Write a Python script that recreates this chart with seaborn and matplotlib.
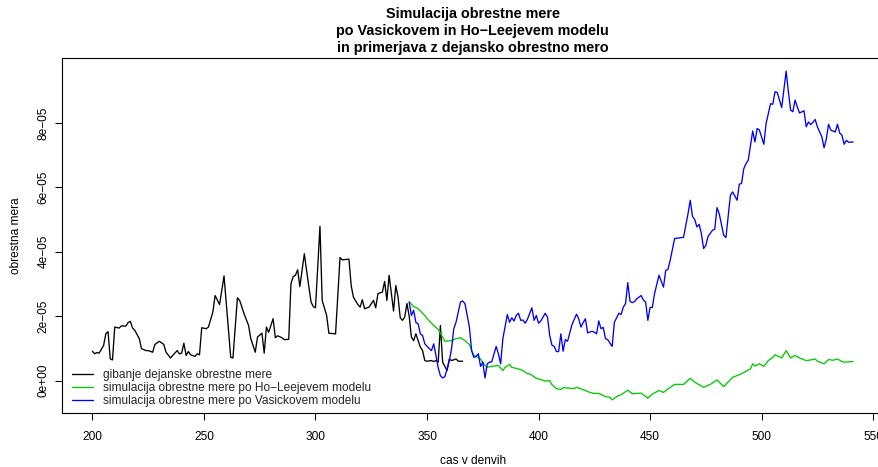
import numpy as np
import pandas as pd
import matplotlib
matplotlib.use("Agg")
import matplotlib.pyplot as plt
import seaborn as sns

# ---------------- data (rates in units of 1e-05) ----------------
actual_day = [200, 201, 202, 203, 205, 206, 207, 208, 209, 210, 212, 213, 215, 216, 217,
              218, 219, 221, 222, 224, 225, 227, 228, 230, 232, 233, 235, 236, 238, 239,
              240, 241, 242, 243, 244, 246, 247, 248, 249, 251, 252, 254, 255, 257, 259,
              262, 263, 265, 266, 268, 270, 271, 273, 274, 276, 277, 278, 279, 281, 282,
              283, 285, 286, 288, 289, 290, 291, 292, 293, 295, 296, 298, 299, 300, 302,
              303, 305, 306, 309, 311, 312, 315, 316, 317, 319, 320, 321, 322, 324, 326,
              327, 328, 330, 331, 332, 333, 335, 336, 337, 338, 339, 340, 341, 342, 343,
              344, 345, 347, 348, 349, 350, 352, 353, 354, 355, 356, 357, 359, 360, 361,
              363, 364, 366]
actual_rate = [0.91, 0.83, 0.87, 0.85, 1.09, 1.45, 1.52, 0.67, 0.64, 1.66, 1.63, 1.70, 1.69, 1.80, 1.84,
               1.63, 1.56, 1.30, 0.99, 0.93, 0.93, 0.88, 1.12, 1.22, 1.12, 0.88, 0.70, 0.78, 0.93, 0.83,
               0.85, 1.16, 0.78, 0.90, 0.80, 0.75, 0.83, 0.80, 1.64, 1.61, 1.66, 2.13, 2.64, 2.36, 3.25,
               0.72, 0.70, 2.57, 2.49, 2.07, 1.71, 1.30, 0.88, 1.35, 1.47, 0.85, 1.66, 1.50, 1.92, 1.33,
               1.39, 1.33, 1.27, 1.28, 3.01, 3.23, 3.27, 3.44, 2.92, 3.94, 3.42, 2.44, 2.30, 2.26, 4.79,
               2.49, 2.02, 1.47, 1.45, 3.82, 3.75, 3.77, 2.95, 2.59, 2.36, 2.28, 2.51, 2.23, 2.28, 2.49,
               2.26, 2.70, 2.75, 3.08, 2.49, 3.27, 2.16, 2.95, 2.60, 1.95, 1.87, 1.97, 2.39, 2.00, 1.35,
               1.24, 1.45, 1.04, 0.93, 0.62, 0.60, 0.62, 0.59, 0.62, 0.57, 1.71, 0.57, 0.31, 0.67, 0.62,
               0.67, 0.60, 0.60]

hl_day = [342, 344, 346, 347, 349, 351, 353, 355, 357, 358, 361, 363, 365, 367, 369,
          370, 371, 373, 374, 376, 377, 379, 382, 384, 385, 387, 388, 391, 393, 395,
          396, 399, 401, 403, 405, 406, 408, 410, 411, 414, 416, 417, 421, 423, 425,
          427, 430, 432, 433, 435, 437, 440, 442, 446, 449, 451, 454, 456, 458, 461,
          465, 468, 470, 474, 477, 480, 483, 487, 490, 493, 495, 496, 497, 499, 501,
          503, 505, 506, 509, 511, 513, 515, 517, 520, 522, 524, 525, 528, 530, 532,
          534, 536, 537, 541]
hl_rate = [2.44, 2.30, 2.23, 2.16, 2.02, 1.85, 1.71, 1.59, 1.35, 1.22, 1.24, 1.30, 1.33, 1.24, 1.12,
           0.93, 0.78, 0.72, 0.67, 0.47, 0.41, 0.44, 0.47, 0.31, 0.41, 0.50, 0.41, 0.36, 0.31, 0.21,
           0.21, 0.07, 0.03, -0.02, 0.00, -0.13, -0.25, -0.28, -0.22, -0.24, -0.25, -0.21, -0.31, -0.37, -0.40,
           -0.40, -0.50, -0.52, -0.60, -0.50, -0.44, -0.30, -0.41, -0.39, -0.55, -0.42, -0.31, -0.37, -0.26, -0.12,
           -0.12, 0.07, -0.05, -0.21, -0.12, 0.02, -0.19, 0.10, 0.18, 0.29, 0.36, 0.52, 0.45, 0.52, 0.44,
           0.62, 0.72, 0.80, 0.70, 0.93, 0.70, 0.78, 0.70, 0.62, 0.64, 0.67, 0.60, 0.52, 0.65, 0.63,
           0.67, 0.59, 0.57, 0.59]

vas_day = [342, 343, 344, 345, 346, 347, 348, 349, 351, 352, 353, 354, 355, 356, 357,
           358, 360, 361, 362, 363, 364, 365, 366, 367, 369, 370, 371, 372, 373, 374,
           375, 376, 377, 378, 379, 381, 382, 383, 384, 386, 387, 388, 389, 390, 391,
           392, 393, 394, 395, 397, 398, 399, 400, 401, 403, 404, 405, 406, 407, 408,
           409, 410, 411, 412, 413, 415, 417, 418, 419, 420, 421, 422, 424, 425, 426,
           427, 428, 429, 430, 431, 433, 434, 436, 437, 438, 439, 440, 441, 442, 443,
           444, 446, 447, 448, 449, 450, 451, 452, 454, 456, 457, 458, 459, 461, 464,
           465, 467, 468, 469, 470, 471, 472, 473, 474, 475, 476, 478, 479, 480, 481,
           483, 484, 485, 486, 487, 489, 490, 491, 492, 493, 494, 496, 497, 498, 499,
           501, 502, 504, 505, 506, 507, 509, 511, 512, 513, 514, 515, 516, 517, 519,
           520, 521, 522, 523, 524, 525, 527, 528, 529, 530, 531, 533, 534, 535, 536,
           537, 538, 539, 541]
vas_rate = [2.44, 2.02, 2.18, 1.81, 1.76, 1.45, 1.40, 1.14, 0.99, 0.93, 1.14, 0.78, 0.40, 0.15, 0.08,
            0.12, 0.62, 0.99, 1.61, 1.81, 2.12, 2.44, 2.47, 2.39, 1.66, 0.93, 0.72, 0.75, 0.83, 0.44,
            0.57, 0.08, 0.52, 0.57, 0.58, 1.06, 0.83, 0.52, 1.30, 2.05, 1.81, 1.95, 1.85, 2.02, 2.09,
            1.87, 1.88, 1.78, 1.90, 2.26, 1.87, 2.02, 1.78, 1.85, 2.09, 1.97, 1.40, 1.10, 1.06, 0.90,
            0.90, 1.45, 0.91, 1.27, 1.22, 1.74, 2.06, 1.92, 1.66, 1.80, 1.92, 1.48, 1.53, 1.50, 1.45,
            1.85, 1.61, 1.65, 1.30, 1.27, 1.06, 1.81, 2.09, 2.05, 2.28, 2.39, 3.04, 2.46, 2.42, 2.45,
            2.54, 2.64, 2.50, 2.44, 1.87, 2.27, 2.27, 2.70, 3.27, 2.90, 3.42, 3.45, 3.73, 4.41, 4.44,
            4.45, 5.18, 5.60, 5.10, 5.00, 4.77, 4.85, 4.56, 4.10, 4.20, 4.48, 4.67, 4.70, 5.37, 5.18,
            4.51, 4.44, 5.08, 5.75, 5.86, 5.60, 6.10, 6.12, 6.58, 6.74, 6.84, 7.75, 7.41, 7.83, 7.78,
            7.34, 7.98, 8.60, 8.58, 8.97, 8.95, 8.48, 9.61, 8.97, 8.40, 8.35, 8.71, 8.50, 8.31, 8.38,
            7.88, 8.03, 7.95, 8.02, 8.11, 7.88, 7.57, 7.23, 7.50, 7.96, 7.78, 7.72, 7.96, 7.69, 7.62,
            7.34, 7.46, 7.40, 7.41]

labels = ["gibanje dejanske obrestne mere",
          "simulacija obrestne mere po Ho\u2212Leejevem modelu",
          "simulacija obrestne mere po Vasickovem modelu"]
colors = ["black", "#00CD00", "#0000FF"]
x_ticks = [200, 250, 300, 350, 400, 450, 500, 550]
y_ticks = [0, 2e-05, 4e-05, 6e-05, 8e-05]
y_ticklabels = ["0e+00", "2e\u221205", "4e\u221205", "6e\u221205", "8e\u221205"]
title_lines = ["Simulacija obrestne mere",
               "po Vasickovem in Ho\u2212Leejevem modelu",
               "in primerjava z dejansko obrestno mero"]

# ---------------- plotting ----------------
sns.set_theme(style="ticks")
plt.rcParams['font.family'] = ['Liberation Sans', 'DejaVu Sans']

W, H = 879, 467
fig = plt.figure(figsize=(W / 100, H / 100), dpi=100)
ax_l, ax_r, ax_t, ax_b = 62, 883.5, 58, 413
ax = fig.add_axes([ax_l / W, (H - ax_b) / H, (ax_r - ax_l) / W, (ax_b - ax_t) / H])

frames = [
    pd.DataFrame({"day": actual_day, "rate": np.array(actual_rate) * 1e-05}),
    pd.DataFrame({"day": hl_day, "rate": np.array(hl_rate) * 1e-05}),
    pd.DataFrame({"day": vas_day, "rate": np.array(vas_rate) * 1e-05}),
]
for df, c, lab in zip(frames, colors, labels):
    sns.lineplot(data=df, x="day", y="rate", color=c, linewidth=0.95, ax=ax,
                 estimator=None, sort=False, label=lab)

# R-style 4% axis extension
all_x = np.concatenate([f["day"].values for f in frames])
all_y = np.concatenate([f["rate"].values for f in frames])
dx = (all_x.max() - all_x.min()) * 0.04
dy = (all_y.max() - all_y.min()) * 0.04
ax.set_xlim(all_x.min() - dx, all_x.max() + dx)
ax.set_ylim(all_y.min() - dy, all_y.max() + dy)

ax.set_xticks(x_ticks)
ax.set_xticklabels([str(t) for t in x_ticks])
ax.set_yticks(y_ticks)
ax.set_yticklabels(y_ticklabels, rotation=90, va="center")
ax.tick_params(axis="both", direction="out", length=5.0, width=0.75, color="black",
               labelsize=8.6, labelcolor="black")
ax.tick_params(axis="x", pad=7.9)
ax.tick_params(axis="y", pad=4.0)
for s in ax.spines.values():
    s.set_visible(True)
    s.set_color("black")
    s.set_linewidth(0.8)
ax.grid(False)

ax.set_xlabel("cas v denvih", fontsize=8.6, color="black")
ax.set_ylabel("obrestna mera", fontsize=8.6, color="black")
ax.xaxis.label.set_va("center")
ax.yaxis.label.set_va("center")
ax.xaxis.set_label_coords(((ax_l + ax_r) / 2 - ax_l) / (ax_r - ax_l), (ax_b - 461) / (ax_b - ax_t))
ax.yaxis.set_label_coords((16 - ax_l) / (ax_r - ax_l), (ax_b - (ax_t + ax_b) / 2) / (ax_b - ax_t))

# title: three bold centered lines
cx = ((ax_l + ax_r) / 2) / W
for yy, line in zip([14, 31, 48], title_lines):
    fig.text(cx, 1 - yy / H, line, ha="center", va="center", fontsize=10.4,
             fontweight="bold", color="black")

handles, labs = ax.get_legend_handles_labels()
ax.legend(handles, labs, loc="upper left", bbox_to_anchor=(72 / W, 1 - 369 / H),
          bbox_transform=fig.transFigure, frameon=False, fontsize=8.6,
          borderpad=0, borderaxespad=0, handlelength=1.75, handletextpad=0.85,
          labelspacing=0.1)

fig.savefig("out.png", dpi=100)
